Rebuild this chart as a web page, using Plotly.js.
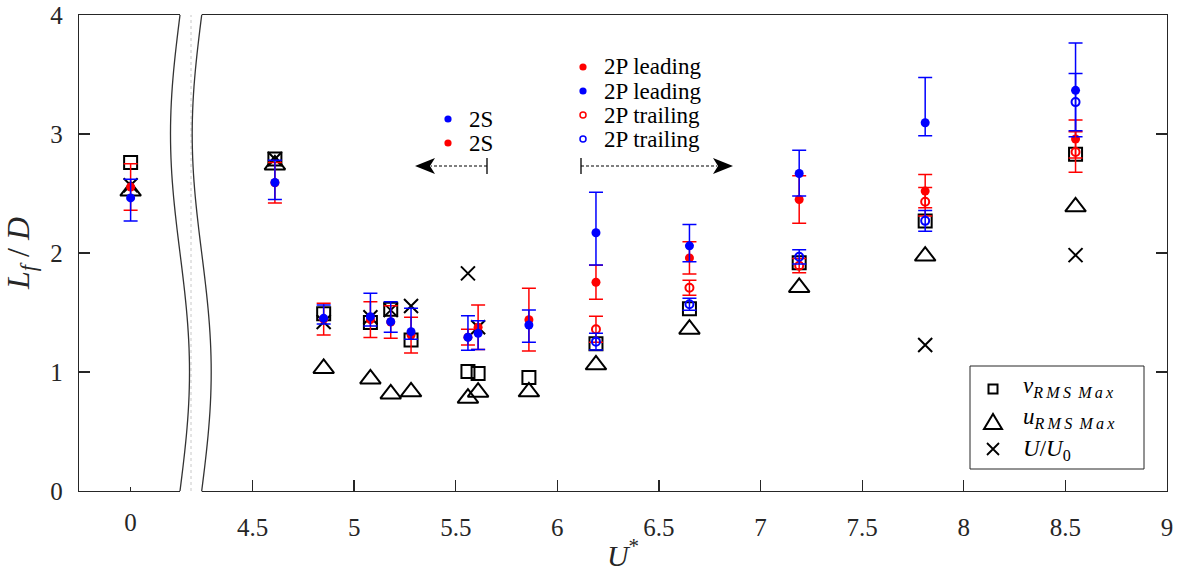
<!DOCTYPE html>
<html><head><meta charset="utf-8">
<script src="https://cdn.plot.ly/plotly-3.0.1.min.js"></script>
<style>html,body{margin:0;padding:0;background:#fff}#chart{width:1183px;height:572px}</style>
</head><body><div id="chart"></div>
<script>
// ---------- data ----------
const Ustar = [0, 4.61, 4.85, 5.08, 5.18, 5.28, 5.56, 5.61, 5.86, 6.19, 6.65, 7.19, 7.81, 8.55];
const vRmsMax = [2.76, 2.79, 1.49, 1.415, 1.527, 1.269, 1.004, 0.987, 0.953, 1.238, 1.532, 1.918, 2.268, 2.83];
const uRmsMax = [2.52, 2.74, 1.03, 0.942, 0.816, 0.833, 0.78, 0.83, 0.833, 1.06, 1.36, 1.711, 1.974, 2.388];
const UoverU0 = [2.57, 2.79, 1.42, 1.46, 1.52, 1.555, 1.829, 1.376, null, null, null, null, 1.227, 1.982];

const redLeading = [2.555, 2.59, 1.444, 1.44, 1.42, 1.31, 1.293, 1.377, 1.44, 1.754, 1.959, 2.45, 2.52, 2.958];
const redLeadingErr = [0.196, 0.17, 0.133, 0.15, 0.136, 0.15, 0.067, 0.187, 0.264, 0.143, 0.136, 0.2, 0.14, 0.16];
const blueLeading = [2.463, 2.592, 1.451, 1.465, 1.423, 1.339, 1.292, 1.325, 1.395, 2.17, 2.06, 2.668, 3.095, 3.367];
const blueLeadingErrPlus = [0.157, 0.188, 0.112, 0.196, 0.167, 0.196, 0.18, 0.105, 0.126, 0.34, 0.18, 0.195, 0.38, 0.397];
const blueLeadingErrMinus = [0.195, 0.142, 0.048, 0.078, 0.089, 0.064, 0.11, 0.135, 0.145, 0.27, 0.134, 0.19, 0.11, 0.39];
const redTrailing = [null, null, null, null, null, null, null, null, null, 1.359, 1.708, 1.893, 2.43, 2.849];
const redTrailingErr = [null, null, null, null, null, null, null, null, null, 0.11, 0.063, 0.06, 0.12, 0.17];
const blueTrailing = [null, null, null, null, null, null, null, null, null, 1.255, 1.569, 1.968, 2.27, 3.268];
const blueTrailingErr = [null, null, null, null, null, null, null, null, null, 0.07, 0.05, 0.06, 0.087, 0.24];

const xTickVals = [4.5, 5, 5.5, 6, 6.5, 7, 7.5, 8, 8.5, 9];
const xTickText = ['4.5', '5', '5.5', '6', '6.5', '7', '7.5', '8', '8.5', '9'];
const yTickVals = [0, 1, 2, 3, 4];
const yTickText = ['0', '1', '2', '3', '4'];

// ---------- broken axis: U*=0 is shown left of the break ----------
const ZERO_POS = 3.9;
const bx = u => (u === 0 ? ZERO_POS : u);
const X = Ustar.map(bx);

const W = 1183, H = 572;
const M = {l: 79, r: 16, t: 15, b: 81};
const PW = W - M.l - M.r, PH = H - M.t - M.b;
const XR = [3.646, 9.0];
const pxToData = p => XR[0] + (p - M.l) / PW * (XR[1] - XR[0]);
const ppx = p => (p - M.l) / PW;          // pixel -> paper x
const ppy = p => (M.t + PH - p) / PH;     // pixel -> paper y

const FONT = '"Liberation Serif", "Times New Roman", Times, serif';
const AX = '#262626';
const RED = '#ff0000', BLUE = '#0000ff';

const traces = [
  {x: X, y: vRmsMax, type: 'scatter', mode: 'markers', name: 'v_RMS Max', showlegend: false,
   marker: {symbol: 'square-open', size: 13, color: 'black', line: {width: 2, color: 'black'}}},
  {x: X, y: uRmsMax, type: 'scatter', mode: 'markers', name: 'u_RMS Max', showlegend: false,
   marker: {symbol: 'triangle-up-open', size: 18, color: 'black', line: {width: 2, color: 'black'}}},
  {x: X, y: UoverU0, type: 'scatter', mode: 'markers', name: 'U/U0', showlegend: false,
   marker: {symbol: 'x-thin', size: 14, color: 'black', line: {width: 2, color: 'black'}}},
  {x: X, y: redLeading, type: 'scatter', mode: 'markers', name: '2S / 2P leading (red)', showlegend: false,
   marker: {symbol: 'circle', size: 9, color: RED, line: {width: 0}},
   error_y: {type: 'data', array: redLeadingErr, color: RED, thickness: 1.5, width: 7}},
  {x: X, y: blueLeading, type: 'scatter', mode: 'markers', name: '2S / 2P leading (blue)', showlegend: false,
   marker: {symbol: 'circle', size: 9, color: BLUE, line: {width: 0}},
   error_y: {type: 'data', symmetric: false, array: blueLeadingErrPlus, arrayminus: blueLeadingErrMinus,
             color: BLUE, thickness: 1.5, width: 7}},
  {x: X, y: redTrailing, type: 'scatter', mode: 'markers', name: '2P trailing (red)', showlegend: false,
   marker: {symbol: 'circle-open', size: 8, color: RED, line: {width: 2, color: RED}},
   error_y: {type: 'data', array: redTrailingErr, color: RED, thickness: 1.5, width: 7}},
  {x: X, y: blueTrailing, type: 'scatter', mode: 'markers', name: '2P trailing (blue)', showlegend: false,
   marker: {symbol: 'circle-open', size: 8, color: BLUE, line: {width: 2, color: BLUE}},
   error_y: {type: 'data', array: blueTrailingErr, color: BLUE, thickness: 1.5, width: 7}},
  {x: [], y: [], xaxis: 'x2', yaxis: 'y', type: 'scatter', mode: 'markers', showlegend: false, hoverinfo: 'skip'}
];

// ---------- decorations ----------
const shapes = [];
const annotations = [];

// axis break (wavy band)
(function () {
  const N = 60, amp = 9.5, gap = 21.7, leftTop = 180;
  const left = [], right = [];
  for (let i = 0; i <= N; i++) {
    const s = i / N;
    const xl = leftTop - amp * Math.sin(2 * Math.PI * s);
    left.push([pxToData(xl), 1 - s]);
    right.push([pxToData(xl + gap), 1 - s]);
  }
  const fillPts = [[left[0][0], 1.006]].concat(left, [[left[N][0], -0.006], [right[N][0], -0.006]],
    right.slice().reverse(), [[right[0][0], 1.006]]);
  shapes.push({type: 'path', xref: 'x', yref: 'paper', layer: 'above',
    path: 'M' + fillPts.map(p => p[0] + ',' + p[1]).join(' L') + ' Z',
    fillcolor: 'white', line: {width: 0}});
  shapes.push({type: 'line', xref: 'x', yref: 'paper', layer: 'above',
    x0: pxToData(191), x1: pxToData(191), y0: 0, y1: 1, line: {color: '#c8c8c8', width: 1, dash: 'dot'}});
  [left, right].forEach(c => shapes.push({type: 'path', xref: 'x', yref: 'paper', layer: 'above',
    path: 'M' + c.map(p => p[0] + ',' + p[1]).join(' L'), line: {color: '#333333', width: 1.3}}));
})();

// regime arrows
function addArrow(xStart, xTip, yPx, dir) {
  shapes.push({type: 'line', xref: 'paper', yref: 'paper', x0: ppx(xStart), x1: ppx(xStart),
    y0: ppy(yPx - 8), y1: ppy(yPx + 8), line: {color: 'black', width: 1.3}});
  const back = xTip - dir * 20;
  shapes.push({type: 'line', xref: 'paper', yref: 'paper', x0: ppx(xStart), x1: ppx(back + dir * 4),
    y0: ppy(yPx), y1: ppy(yPx), line: {color: 'black', width: 1.2, dash: '3px,2px'}});
  shapes.push({type: 'path', xref: 'paper', yref: 'paper', fillcolor: 'black', line: {width: 0},
    path: `M${ppx(xTip)},${ppy(yPx)} L${ppx(back)},${ppy(yPx - 8)} L${ppx(back + dir * 5)},${ppy(yPx)} L${ppx(back)},${ppy(yPx + 8)} Z`});
}
addArrow(487, 415, 166, -1);
addArrow(581, 733, 166, 1);

// wake-mode legend (dots + text)
function dotMark(xp, yp, color, open) {
  const r = open ? 3 : 3.6;
  shapes.push({type: 'circle', xref: 'paper', yref: 'paper', xsizemode: 'pixel', ysizemode: 'pixel',
    xanchor: ppx(xp), yanchor: ppy(yp), x0: -r, x1: r, y0: -r, y1: r,
    fillcolor: open ? 'white' : color, line: {color: color, width: open ? 1.5 : 0}});
}
function label(xp, yp, text, size) {
  annotations.push({xref: 'paper', yref: 'paper', x: ppx(xp), y: ppy(yp), xanchor: 'left', yanchor: 'middle',
    text: text, showarrow: false, borderpad: 0, font: {family: FONT, size: size || 23, color: 'black'}});
}
const modeLegend = [
  {x: 583, y: 67, c: RED, open: false, t: '2P leading'},
  {x: 583, y: 91, c: BLUE, open: false, t: '2P leading'},
  {x: 583, y: 115, c: RED, open: true, t: '2P trailing'},
  {x: 583, y: 139, c: BLUE, open: true, t: '2P trailing'},
  {x: 448, y: 119, c: BLUE, open: false, t: '2S'},
  {x: 448, y: 143, c: RED, open: false, t: '2S'}
];
modeLegend.forEach(e => { dotMark(e.x, e.y, e.c, e.open); label(e.x + 20, e.y, e.t); });

// marker legend box
shapes.push({type: 'rect', xref: 'paper', yref: 'paper', x0: ppx(970), x1: ppx(1144), y0: ppy(469), y1: ppy(366),
  fillcolor: 'white', line: {color: AX, width: 1}});
const symX = 993;
shapes.push({type: 'rect', xref: 'paper', yref: 'paper', xsizemode: 'pixel', ysizemode: 'pixel',
  xanchor: ppx(symX), yanchor: ppy(389), x0: -4.5, x1: 4.5, y0: -4.5, y1: 4.5, line: {color: 'black', width: 2}});
shapes.push({type: 'path', xref: 'paper', yref: 'paper', xsizemode: 'pixel', ysizemode: 'pixel',
  xanchor: ppx(symX), yanchor: ppy(422), path: 'M-9,-7 L9,-7 L0,8 Z', line: {color: 'black', width: 2}});
shapes.push({type: 'path', xref: 'paper', yref: 'paper', xsizemode: 'pixel', ysizemode: 'pixel',
  xanchor: ppx(symX), yanchor: ppy(449), path: 'M-6,-6 L6,6 M-6,6 L6,-6', line: {color: 'black', width: 1.8}});
const th = '\u2009';
const sub = 'R' + th + 'M' + th + 'S ' + th + 'M' + th + 'a' + th + 'x';
label(1022, 387, '<i>v</i><sub><i>' + sub + '</i></sub>', 23);
label(1022, 418, '<i>u</i><sub><i>' + sub + '</i></sub>', 23);
label(1022, 450, '<i>U</i>/<i>U</i><sub>0</sub>', 23);

const layout = {
  width: W, height: H, margin: M, paper_bgcolor: 'white', plot_bgcolor: 'white', showlegend: false,
  xaxis: {range: XR, tickmode: 'array', tickvals: xTickVals, ticktext: xTickText,
    ticks: 'inside', ticklen: 11, tickwidth: 1.3, tickcolor: AX, showline: true, linecolor: AX, linewidth: 1.3,
    mirror: true, showgrid: false, zeroline: false, ticklabelstandoff: 14,
    tickfont: {family: FONT, size: 25, color: AX},
    title: {text: '<i>U</i><sup>*</sup>', font: {family: FONT, size: 30, color: AX}, standoff: 8}},
  xaxis2: {range: XR, overlaying: 'x', anchor: 'y', side: 'bottom', tickmode: 'array', tickvals: [ZERO_POS], ticktext: ['0'],
    ticks: 'inside', ticklen: 4, tickwidth: 1.3, tickcolor: AX, showline: false, showgrid: false, zeroline: false,
    ticklabelstandoff: 14, tickfont: {family: FONT, size: 25, color: AX}},
  yaxis: {range: [0, 4], tickmode: 'array', tickvals: yTickVals, ticktext: yTickText,
    ticks: 'inside', ticklen: 11, tickwidth: 1.3, tickcolor: AX, showline: true, linecolor: AX, linewidth: 1.3,
    mirror: 'ticks', showgrid: false, zeroline: false, ticklabelstandoff: 10,
    tickfont: {family: FONT, size: 25, color: AX},
    title: {text: '<i>L</i><sub><i>f</i></sub> / <i>D</i>', font: {family: FONT, size: 32, color: AX}, standoff: 12}},
  shapes: shapes,
  annotations: annotations
};

Plotly.newPlot('chart', traces, layout, {staticPlot: true, displayModeBar: false});
</script>
</body></html>
